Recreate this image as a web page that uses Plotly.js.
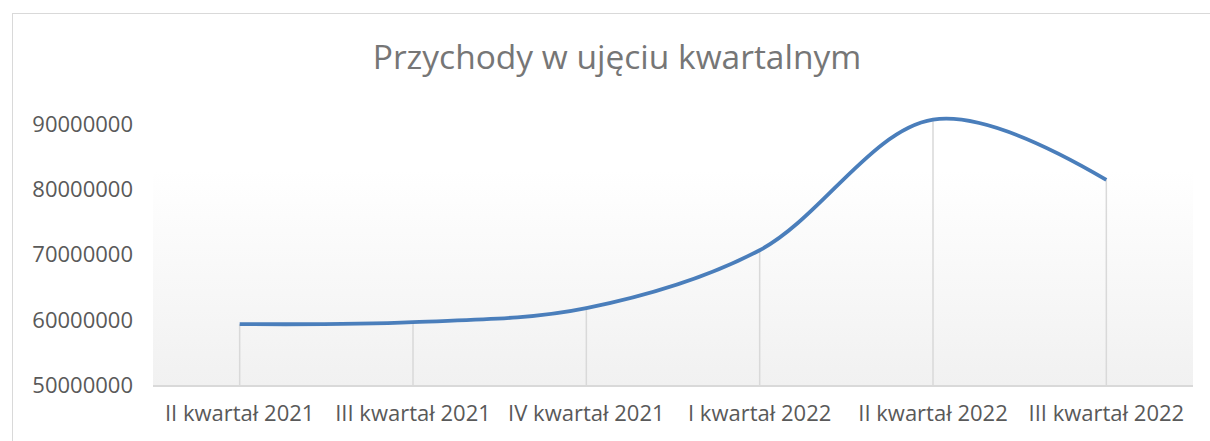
<!DOCTYPE html>
<html>
<head>
<meta charset="utf-8">
<script src="https://cdn.plot.ly/plotly-3.0.1.min.js"></script>
<style>
html,body{margin:0;padding:0;background:#fff;}
#wrap{position:relative;width:1210px;height:441px;overflow:hidden;}
#plot{position:absolute;left:0;top:0;width:1210px;height:441px;}
#frame{position:absolute;left:12px;top:13px;width:1300px;height:500px;border-left:1.5px solid #d9d9d9;border-top:1.5px solid #d9d9d9;pointer-events:none;}
</style>
</head>
<body>
<div id="wrap"><div id="plot"></div><div id="frame"></div></div>
<script>
const categories = ["II kwartał 2021", "III kwartał 2021", "IV kwartał 2021", "I kwartał 2022", "II kwartał 2022", "III kwartał 2022"];
const revenue = [59350000, 59650000, 61800000, 70700000, 90750000, 81500000];
const yTicks = [50000000, 60000000, 70000000, 80000000, 90000000];
const yTickLabels = ["50000000", "60000000", "70000000", "80000000", "90000000"];
const chartTitle = "Przychody w ujęciu kwartalnym";
const yMin = 50000000, yMax = 95000000;

// drop lines from each point to the axis
const dropX = [], dropY = [];
categories.forEach((c, i) => { dropX.push(c, c, null); dropY.push(revenue[i], yMin, null); });

const gradSvg = '<svg xmlns="http://www.w3.org/2000/svg" width="100" height="100" preserveAspectRatio="none"><defs><linearGradient id="g" x1="0" y1="0" x2="0" y2="1"><stop offset="0" stop-color="#ffffff"/><stop offset="1" stop-color="#f1f1f1"/></linearGradient></defs><rect width="100" height="100" fill="url(#g)"/></svg>';

const traces = [
  {x: dropX, y: dropY, type: "scatter", mode: "lines", line: {color: "#d9d9d9", width: 1.5}, hoverinfo: "skip", showlegend: false},
  {x: categories, y: revenue, type: "scatter", mode: "lines", line: {color: "#4a7ebb", width: 3.8, shape: "spline", smoothing: 1}, showlegend: false}
];

const plotTop = 92, plotBottom = 385;
const gradTopPx = 170;
const layout = {
  width: 1210, height: 441,
  margin: {l: 153, r: 17, t: plotTop, b: 441 - plotBottom},
  paper_bgcolor: "rgba(0,0,0,0)", plot_bgcolor: "rgba(0,0,0,0)",
  font: {family: "Open Sans, sans-serif", color: "#595959", size: 22},
  title: {text: chartTitle, x: 617/1210, xanchor: "center", y: 1 - 57/441, yanchor: "middle", font: {family: "Open Sans, sans-serif", size: 33.5, color: "#767676"}},
  xaxis: {type: "category", range: [-0.5, 5.5], showgrid: false, zeroline: false, showline: true, linecolor: "#d9d9d9", linewidth: 1.5, ticks: "", tickfont: {size: 22, color: "#595959"}, ticklabelstandoff: 8, fixedrange: true},
  yaxis: {range: [yMin, yMax], tickvals: yTicks, ticktext: yTickLabels, showgrid: false, zeroline: false, showline: false, ticks: "", tickfont: {size: 22, color: "#595959"}, ticklabelstandoff: 19, fixedrange: true},
  images: [{source: "data:image/svg+xml;utf8," + encodeURIComponent(gradSvg), xref: "paper", yref: "paper", x: 0, y: (plotBottom - gradTopPx) / (plotBottom - plotTop), sizex: 1, sizey: (plotBottom - gradTopPx) / (plotBottom - plotTop), xanchor: "left", yanchor: "top", sizing: "stretch", layer: "below"}],
  showlegend: false
};
Plotly.newPlot("plot", traces, layout, {displayModeBar: false, staticPlot: true});
</script>
</body>
</html>
